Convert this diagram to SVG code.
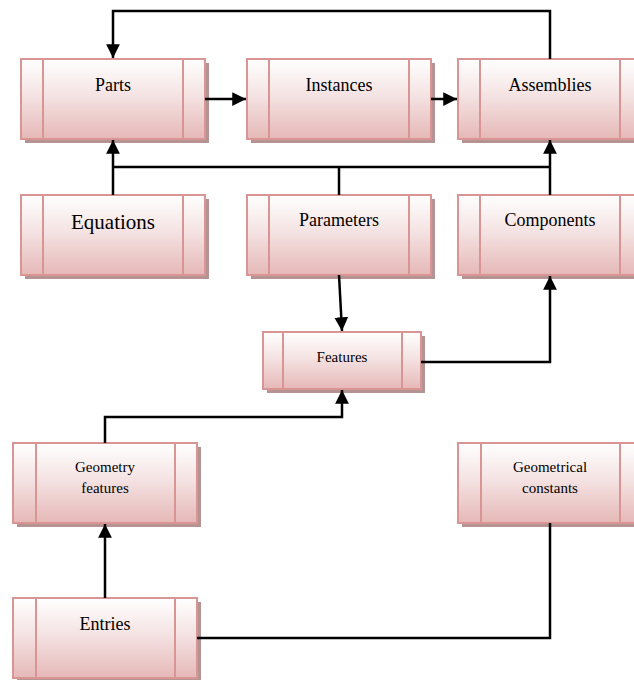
<svg xmlns="http://www.w3.org/2000/svg" width="634" height="680" viewBox="0 0 634 680">
<defs>
<linearGradient id="g" x1="0" y1="0" x2="0" y2="1">
<stop offset="0" stop-color="#ffffff"/>
<stop offset="0.45" stop-color="#f5e3e3"/>
<stop offset="1" stop-color="#e5b8b7"/>
</linearGradient>
<marker id="ah" viewBox="0 0 10 10" refX="10" refY="5" markerWidth="5.5" markerHeight="5.5" orient="auto" markerUnits="strokeWidth">
<path d="M0,0 L10,5 L0,10 Z" fill="#000"/>
</marker>
</defs>
<style>
.sh{fill:#b59393}
.bx{fill:url(#g);stroke:#d99594;stroke-width:2}
.dv{stroke:#d99594;stroke-width:2;fill:none}
.c{fill:none;stroke:#000;stroke-width:2.5}
text{font-family:'Liberation Serif','Times New Roman','DejaVu Serif',serif;text-anchor:middle;fill:#000}
</style>
<rect width="634" height="680" fill="#fff"/>

<g id="parts">
<rect class="sh" x="25" y="63" width="184" height="80"/>
<rect class="bx" x="21" y="59" width="184" height="80"/>
<path class="dv" d="M43,59V139M183,59V139"/>
<text x="113" y="91" font-size="18">Parts</text>
</g>
<g id="instances">
<rect class="sh" x="251" y="63" width="184" height="80"/>
<rect class="bx" x="247" y="59" width="184" height="80"/>
<path class="dv" d="M269,59V139M409,59V139"/>
<text x="339" y="91" font-size="18">Instances</text>
</g>
<g id="assemblies">
<rect class="sh" x="462" y="63" width="184" height="80"/>
<rect class="bx" x="458" y="59" width="184" height="80"/>
<path class="dv" d="M480,59V139M620,59V139"/>
<text x="550" y="91" font-size="18">Assemblies</text>
</g>
<g id="equations">
<rect class="sh" x="25" y="199" width="184" height="80"/>
<rect class="bx" x="21" y="195" width="184" height="80"/>
<path class="dv" d="M43,195V275M183,195V275"/>
<text x="113" y="229" font-size="21">Equations</text>
</g>
<g id="parameters">
<rect class="sh" x="251" y="199" width="184" height="80"/>
<rect class="bx" x="247" y="195" width="184" height="80"/>
<path class="dv" d="M269,195V275M409,195V275"/>
<text x="339" y="226" font-size="18">Parameters</text>
</g>
<g id="components">
<rect class="sh" x="462" y="199" width="184" height="80"/>
<rect class="bx" x="458" y="195" width="184" height="80"/>
<path class="dv" d="M480,195V275M620,195V275"/>
<text x="550" y="226" font-size="18">Components</text>
</g>
<g id="features">
<rect class="sh" x="267" y="336" width="158" height="57"/>
<rect class="bx" x="263" y="332" width="158" height="57"/>
<path class="dv" d="M283,332V389M402,332V389"/>
<text x="342" y="362" font-size="15">Features</text>
</g>
<g id="geometry-features">
<rect class="sh" x="17" y="447" width="184" height="80"/>
<rect class="bx" x="13" y="443" width="184" height="80"/>
<path class="dv" d="M36,443V523M175,443V523"/>
<text x="105" y="472" font-size="15">Geometry</text>
<text x="105" y="493" font-size="15">features</text>
</g>
<g id="geometrical-constants">
<rect class="sh" x="462" y="447" width="184" height="80"/>
<rect class="bx" x="458" y="443" width="184" height="80"/>
<path class="dv" d="M481,443V523M620,443V523"/>
<text x="550" y="472" font-size="15">Geometrical</text>
<text x="550" y="493" font-size="15">constants</text>
</g>
<g id="entries">
<rect class="sh" x="17" y="602" width="184" height="80"/>
<rect class="bx" x="13" y="598" width="184" height="80"/>
<path class="dv" d="M36,598V678M175,598V678"/>
<text x="105" y="630" font-size="18">Entries</text>
</g>

<g id="connectors">
<path class="c" d="M550,59V11H113V58" marker-end="url(#ah)"/>
<path class="c" d="M205,99H246" marker-end="url(#ah)"/>
<path class="c" d="M431,99H457" marker-end="url(#ah)"/>
<path class="c" d="M113,195V140" marker-end="url(#ah)"/>
<path class="c" d="M550,195V140" marker-end="url(#ah)"/>
<path class="c" d="M113,167H550"/>
<path class="c" d="M339,195V167"/>
<path class="c" d="M339,275L342,331" marker-end="url(#ah)"/>
<path class="c" d="M421,362H550V276" marker-end="url(#ah)"/>
<path class="c" d="M105,443V417H342V390" marker-end="url(#ah)"/>
<path class="c" d="M105,598V524" marker-end="url(#ah)"/>
<path class="c" d="M197,638H550V523"/>
</g>
</svg>
